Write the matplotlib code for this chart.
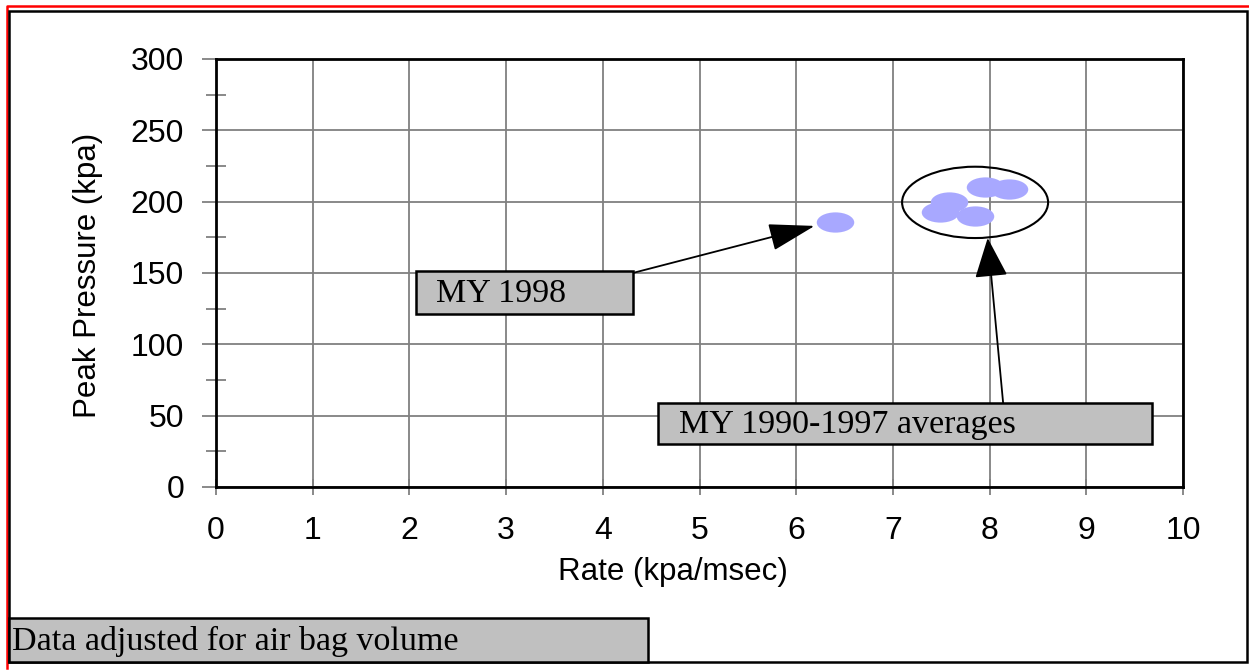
"""
Peak pressure vs rate chart (air bag data), redrawn with matplotlib.
"""
import numpy as np
import matplotlib
matplotlib.use('Agg')
import matplotlib.pyplot as plt
from matplotlib.path import Path
from matplotlib.patches import Ellipse, Rectangle

W, H = 1249, 672

# dados
rate_1998 = [6.40]
pressure_1998 = [186]
rate_avg = [7.58, 7.49, 7.85, 7.95, 8.20]
pressure_avg = [200, 193, 190, 210, 209]

x_ticks = list(range(0, 11))
y_ticks = list(range(0, 301, 50))

BLUE = '#a8a8ff'
GRID = '#808080'
BOXFILL = '#c0c0c0'

SANS = ['Liberation Sans', 'DejaVu Sans']
SERIF = ['Liberation Serif', 'DejaVu Serif']


def fx(x):
    return x / W


def fy(y):
    return 1 - y / H


fig = plt.figure(figsize=(W / 100, H / 100), dpi=100)
ax = fig.add_axes([fx(216), fy(487), fx(1183) - fx(216), fy(59) - fy(487)])

# marcador elíptico (mais largo que alto)
circ = Path.unit_circle()
ell_marker = Path(circ.vertices * np.array([1.0, 0.54]), circ.codes)

ax.plot(rate_1998, pressure_1998, linestyle='none', marker=ell_marker,
        markersize=27, color=BLUE, markeredgewidth=0, zorder=3)
ax.plot(rate_avg, pressure_avg, linestyle='none', marker=ell_marker,
        markersize=27, color=BLUE, markeredgewidth=0, zorder=3)

ax.set_xlim(0, 10)
ax.set_ylim(0, 300)
ax.set_xticks(x_ticks)
ax.set_yticks(y_ticks)
ax.set_yticks(np.arange(25, 300, 50), minor=True)
ax.set_xticklabels([str(t) for t in x_ticks], fontfamily=SANS, fontsize=23)
ax.set_yticklabels([str(t) for t in y_ticks], fontfamily=SANS, fontsize=23)
ax.grid(True, which='major', color=GRID, linewidth=1.3, zorder=0)
ax.set_axisbelow(True)
ax.tick_params(axis='y', which='major', direction='out', length=10, width=1.3,
               color=GRID, pad=13)
ax.tick_params(axis='y', which='minor', direction='inout', length=14, width=1.3,
               color=GRID)
ax.tick_params(axis='x', which='major', direction='inout', length=12, width=1.3,
               color=GRID, pad=15)
for sp in ax.spines.values():
    sp.set_color('black')
    sp.set_linewidth(2)

fig.text(fx(673), fy(572), 'Rate (kpa/msec)', ha='center', va='center',
         fontfamily=SANS, fontsize=22.5)
fig.text(fx(88), fy(275), 'Peak Pressure (kpa)', ha='center', va='center',
         rotation=90, fontfamily=SANS, fontsize=22.5)

# elipse em volta das médias
ax.add_patch(Ellipse((7.85, 199.5), 1.51, 50, fill=False, edgecolor='black',
                     linewidth=1.5, zorder=4))

# setas
ax.annotate('', xy=(6.19, 183), xytext=(4.31, 150),
            arrowprops=dict(arrowstyle='-|>,head_length=2.9,head_width=0.86',
                            color='black', lw=1.3, shrinkA=0, shrinkB=0),
            zorder=5)
ax.annotate('', xy=(7.98, 174.5), xytext=(8.14, 58.9),
            arrowprops=dict(arrowstyle='-|>,head_length=2.5,head_width=1.04',
                            color='black', lw=1.3, shrinkA=0, shrinkB=0),
            zorder=5)


def label_box(x0, y0, x1, y1, text, tx):
    fig.patches.append(Rectangle((fx(x0), fy(y1)), fx(x1) - fx(x0), fy(y0) - fy(y1),
                                 transform=fig.transFigure, facecolor=BOXFILL,
                                 edgecolor='black', linewidth=1.8, zorder=10))
    fig.text(fx(tx), fy((y0 + y1) / 2 + 1), text, ha='left', va='center',
             fontfamily=SERIF, fontsize=24.5, zorder=11)


label_box(416, 271, 633, 314, 'MY 1998', 436)
label_box(658, 403, 1152, 444, 'MY 1990-1997 averages', 679)
label_box(9, 618, 648, 662, 'Data adjusted for air bag volume', 12)

# moldura externa
fig.patches.append(Rectangle((fx(9), fy(662)), fx(1247) - fx(9), fy(11) - fy(662),
                             transform=fig.transFigure, fill=False,
                             edgecolor='black', linewidth=1.8, zorder=9))
fig.lines.append(plt.Line2D([fx(7), fx(7), fx(1249)], [fy(668), fy(6), fy(6)],
                            transform=fig.transFigure, color='red', linewidth=1.8))

fig.savefig('out.png', dpi=100)
